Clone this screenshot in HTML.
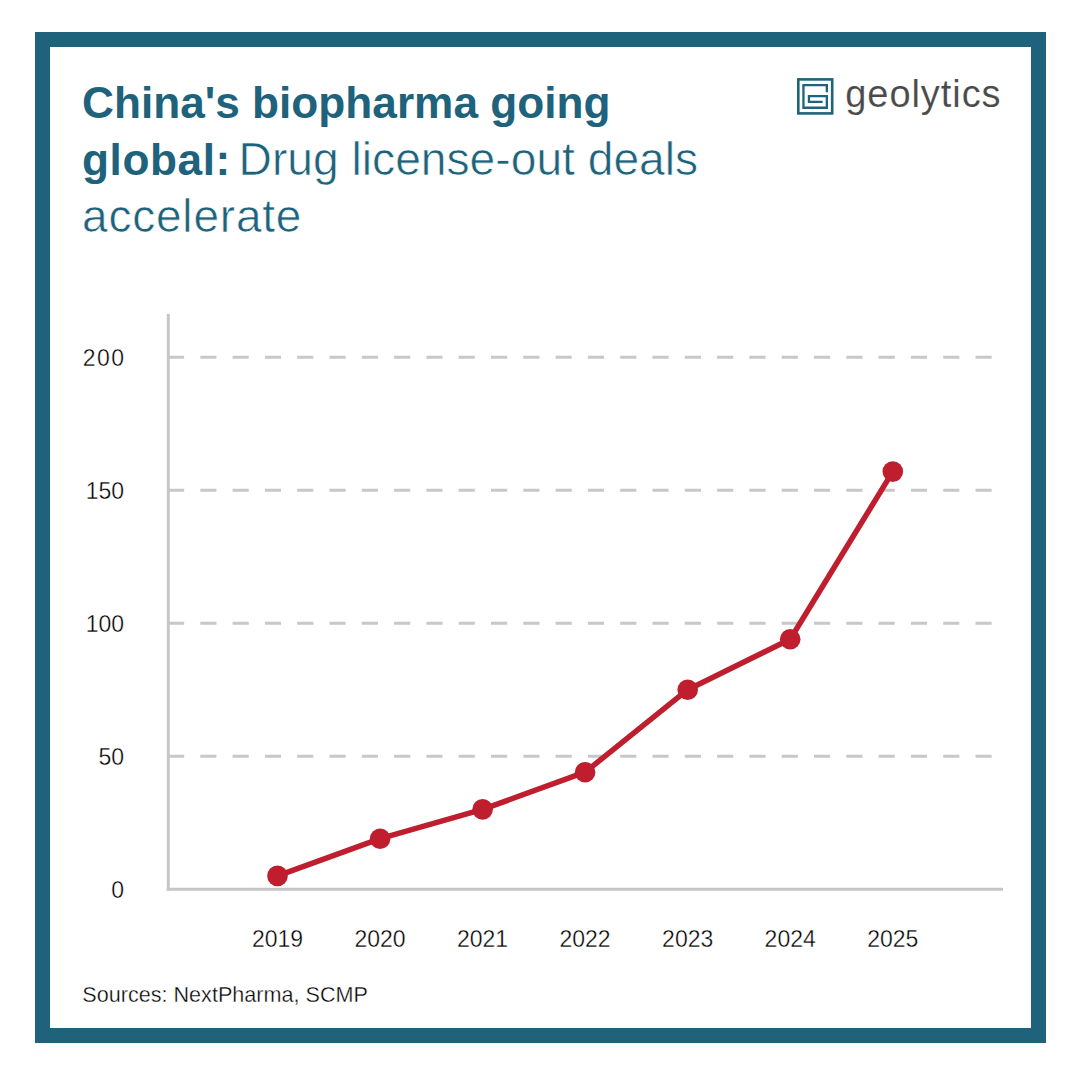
<!DOCTYPE html>
<html>
<head>
<meta charset="utf-8">
<style>
html,body{margin:0;padding:0;background:#fff;width:1080px;height:1080px;overflow:hidden}
.frame{position:absolute;left:35px;top:32px;width:1011px;height:1011px;box-sizing:border-box;border:15px solid #1e637b}
svg{position:absolute;left:0;top:0}
text{font-family:"Liberation Sans",sans-serif}
</style>
</head>
<body>
<div class="frame"></div>
<svg width="1080" height="1080" viewBox="0 0 1080 1080" xmlns="http://www.w3.org/2000/svg">
  <!-- title -->
  <g fill="#1e637b">
    <text x="82" y="118" font-size="44.2" font-weight="bold">China's biopharma going</text>
    <text x="82" y="175" font-size="44.2" font-weight="bold" letter-spacing="0.57">global:</text>
    <text x="238.6" y="175" font-size="46.2" stroke="#fff" stroke-width="0.6">Drug license-out deals</text>
    <text x="82" y="232" font-size="46" letter-spacing="0.8" stroke="#fff" stroke-width="0.6">accelerate</text>
  </g>
  <!-- logo -->
  <g fill="none" stroke="#1e637b" stroke-width="2.3">
    <rect x="798.3" y="79.4" width="33.9" height="34" stroke-width="2.6"/>
    <path d="M826.85,91.05 V85.05 H803.45 V107.75 H826.85 V96.15 H808.95 V101.85 H821.45" stroke-linecap="square"/>
  </g>
  <text x="845.3" y="107" font-size="38" letter-spacing="0.93" fill="#4a4a4a" stroke="#fff" stroke-width="0.15">geolytics</text>

  <!-- grid -->
  <g stroke="#c8c8c8" stroke-width="3" stroke-dasharray="16.15 16.15">
    <line x1="168" y1="357.2" x2="1003" y2="357.2"/>
    <line x1="168" y1="490.2" x2="1003" y2="490.2"/>
    <line x1="168" y1="623.2" x2="1003" y2="623.2"/>
    <line x1="168" y1="756.2" x2="1003" y2="756.2"/>
  </g>
  <g stroke="#c6c6c6" stroke-width="3">
    <line x1="168.3" y1="314" x2="168.3" y2="890.8"/>
    <line x1="166.8" y1="889.3" x2="1003" y2="889.3"/>
  </g>
  <!-- y labels -->
  <g font-size="23" fill="#000" text-anchor="end" stroke="#fff" stroke-width="0.35">
    <text x="125.5" y="365.5" letter-spacing="1.5">200</text>
    <text x="124" y="498.5">150</text>
    <text x="124" y="631.5">100</text>
    <text x="124" y="764.5">50</text>
    <text x="124" y="897.5">0</text>
  </g>
  <!-- x labels -->
  <g font-size="23" fill="#000" text-anchor="middle" stroke="#fff" stroke-width="0.35">
    <text x="277.5" y="947">2019</text>
    <text x="380.1" y="947">2020</text>
    <text x="482.6" y="947">2021</text>
    <text x="585.1" y="947">2022</text>
    <text x="687.7" y="947">2023</text>
    <text x="790.2" y="947">2024</text>
    <text x="892.8" y="947">2025</text>
  </g>
  <!-- line -->
  <polyline fill="none" stroke="#be1e2d" stroke-width="5.5" stroke-linejoin="round" points="277.5,875.9 380.1,838.7 482.6,809.4 585.1,772.2 687.7,689.7 790.2,639.2 892.8,471.6"/>
  <g fill="#be1e2d">
    <circle cx="277.5" cy="875.9" r="10.3"/>
    <circle cx="380.1" cy="838.7" r="10.3"/>
    <circle cx="482.6" cy="809.4" r="10.3"/>
    <circle cx="585.1" cy="772.2" r="10.3"/>
    <circle cx="687.7" cy="689.7" r="10.3"/>
    <circle cx="790.2" cy="639.2" r="10.3"/>
    <circle cx="892.8" cy="471.6" r="10.3"/>
  </g>
  <!-- source -->
  <text x="82.3" y="1002" font-size="21.6" fill="#000" stroke="#fff" stroke-width="0.35">Sources: NextPharma, SCMP</text>
</svg>
</body>
</html>
